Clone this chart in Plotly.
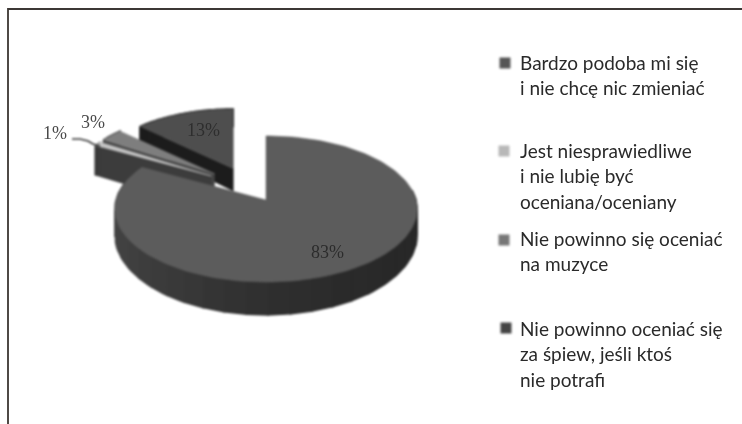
import numpy as np
import plotly.graph_objects as go

shares = [83, 1, 3, 13]
pie_labels = ["83%", "1%", "3%", "13%"]
categories = [["Bardzo podoba mi się", "i nie chcę nic zmieniać"],
              ["Jest niesprawiedliwe", "i nie lubię być", "oceniana/oceniany"],
              ["Nie powinno się oceniać", "na muzyce"],
              ["Nie powinno oceniać się", "za śpiew, jeśli ktoś", "nie potrafi"]]
top_colors = ["#5c5c5c", "#c4c4c4", "#7e7e7e", "#4e4e4e"]
side_colors = ["#3a3a3a", "#3c3c3c", "#444444", "#1c1c1c"]
explode = [0.21, 0.30, 0.30, 0.28]
radius = [1.0, 0.93, 0.93, 0.92]
depth_scale = [1.0, 1.35, 1.0, 0.9]
legend_y = [63, 151, 240, 328]
text_y = [62, 150, 238, 328]
swatch = ["#555555", "#b8b8b8", "#777777", "#444444"]

CX, CY, A, B, K, DEPTH = 250, 187, 150, 72, 0.123, 25
LINE = 25.7

def proj(th, r=1.0, z=0.0, off=(0, 0), ds=1.0):
    u, v = r * np.sin(th), r * np.cos(th)
    w = 1 / (1 + K * v)
    return CX + off[0] + A * u * w, CY + off[1] - B * v * w + z * ds * DEPTH * (1 - 0.15 * v) * w

fig = go.Figure()

def poly(x, y, color, lw=0.5):
    fig.add_trace(go.Scatter(x=np.r_[x, x[0]], y=np.r_[y, y[0]], mode="lines", fill="toself",
                             fillcolor=color, line=dict(color=color, width=lw),
                             hoverinfo="skip", showlegend=False))

edges = np.r_[0, np.cumsum(shares)] / sum(shares) * 2 * np.pi
for i in [3, 2, 1, 0]:
    t0, t1 = edges[i], edges[i + 1]
    mid = (t0 + t1) / 2
    off = (A * explode[i] * np.sin(mid), -B * explode[i] * np.cos(mid))
    r, ds = radius[i], depth_scale[i]
    ts = np.linspace(t0, t1, 160)
    if i != 0:
        xs0 = proj(t0, 0, 0, off, ds)
        xs1 = proj(t0, 0, 1, off, ds)
        xs2 = proj(t0, r, 1, off, ds)
        xs3 = proj(t0, r, 0, off, ds)
        poly(np.array([xs0[0], xs1[0], xs2[0], xs3[0]]), np.array([xs0[1], xs1[1], xs2[1], xs3[1]]), side_colors[i])
    segs = np.linspace(t0, t1, 41)
    for a, b in zip(segs[:-1], segs[1:]):
        m = (a + b) / 2
        if i == 0 and np.cos(m) > 0.2:
            continue
        tt = np.linspace(a, b, 5)
        xa, ya = proj(tt, r, 0, off, ds)
        xb, yb = proj(tt[::-1], r, 1, off, ds)
        if i == 0:
            shade = int(np.clip(48 - 14 * np.sin(m) + 6 * np.sin(m) ** 2, 36, 70))
        else:
            shade = int(side_colors[i][1:3], 16)
        c = f"rgb({shade},{shade},{shade})"
        poly(np.r_[xa, xb], np.r_[ya, yb], c, lw=1.5)
    xt, yt = proj(ts, r, 0, off, ds)
    cx, cy = proj(0.0, 0, 0, off, ds)
    poly(np.r_[cx, xt], np.r_[cy, yt], top_colors[i])

fig.add_trace(go.Scatter(x=[505, 504, 504, 506], y=legend_y, mode="markers",
                         marker=dict(symbol="square", size=11, color=swatch, line=dict(width=0)),
                         hoverinfo="skip", showlegend=False))
fig.add_trace(go.Scatter(x=[72, 80, 88, 93, 100], y=[139, 139, 141, 144, 146], mode="lines",
                         line=dict(color="#333333", width=1.5), hoverinfo="skip", showlegend=False))

ann = []
for lines, y0 in zip(categories, text_y):
    for k, line in enumerate(lines):
        ann.append(dict(x=518, y=y0 + k * LINE, text=line, xanchor="left", yanchor="middle", align="left",
                        showarrow=False, font=dict(family="Lato", size=19, color="#2a2a2a")))
for txt, x, y, col in [(pie_labels[0], 327, 252, "#2c2c2c"), (pie_labels[3], 203, 130, "#2e2e2e"),
                       (pie_labels[1], 55, 133, "#4a4a4a"), (pie_labels[2], 93, 122, "#4a4a4a")]:
    ann.append(dict(x=x, y=y, text=txt, xanchor="center", yanchor="middle", showarrow=False,
                    font=dict(family="Liberation Serif", size=18, color=col)))

fig.update_layout(width=742, height=424, margin=dict(l=0, r=0, t=0, b=0), paper_bgcolor="white",
                  plot_bgcolor="white", annotations=ann, showlegend=False,
                  xaxis=dict(range=[0, 742], visible=False, fixedrange=True),
                  yaxis=dict(range=[424, 0], visible=False, fixedrange=True),
                  shapes=[dict(type="line", x0=8, x1=8, y0=8, y1=424, line=dict(color="#4f4a46", width=2)),
                          dict(type="line", x0=8, x1=742, y0=9, y1=9, line=dict(color="#3c3835", width=2))])
fig.write_html("out.html", config=dict(displayModeBar=False),
               post_script="document.body.style.margin='0';document.documentElement.style.overflow='hidden';"
                           "document.querySelectorAll('.cartesianlayer').forEach(e=>e.style.filter='blur(0.8px)');")
